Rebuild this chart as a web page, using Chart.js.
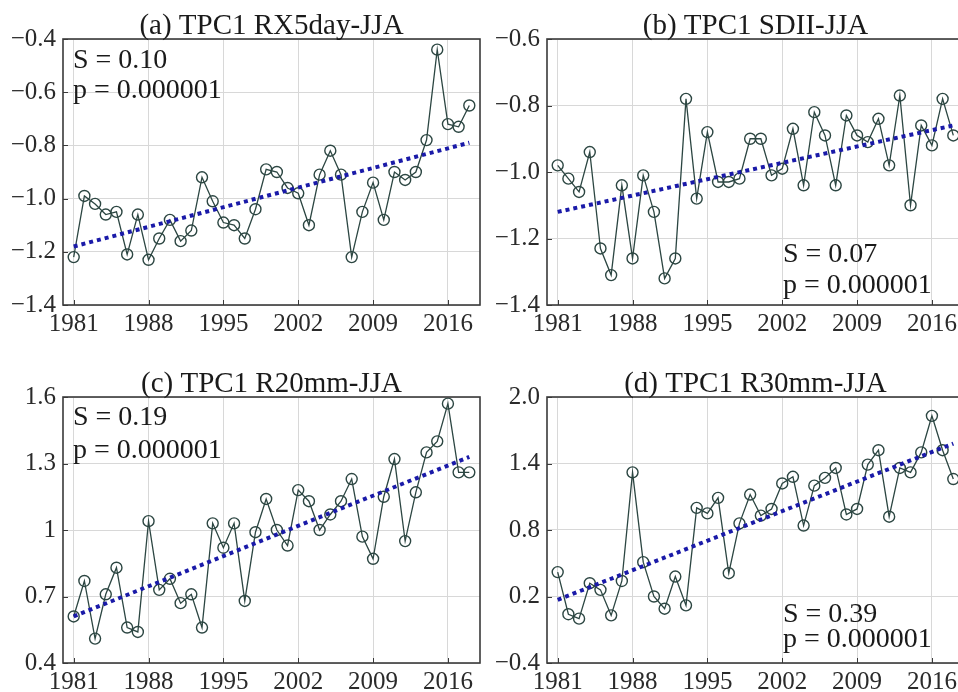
<!DOCTYPE html>
<html>
<head>
<meta charset="utf-8">
<script src="https://cdn.jsdelivr.net/npm/chart.js@4"></script>
<style>
  html, body { margin: 0; padding: 0; background: #fff; overflow: hidden; width: 958px; height: 692px; }
  .panel { position: absolute; }
</style>
</head>
<body>
<canvas id="panelA" class="panel" width="490" height="340" style="left:0;top:0"></canvas>
<canvas id="panelB" class="panel" width="490" height="340" style="left:484px;top:0"></canvas>
<canvas id="panelC" class="panel" width="490" height="340" style="left:0;top:358px"></canvas>
<canvas id="panelD" class="panel" width="490" height="340" style="left:484px;top:358px"></canvas>
<script>
// years of the JJA series
const years = [1981, 1982, 1983, 1984, 1985, 1986, 1987, 1988, 1989, 1990,
               1991, 1992, 1993, 1994, 1995, 1996, 1997, 1998, 1999, 2000,
               2001, 2002, 2003, 2004, 2005, 2006, 2007, 2008, 2009, 2010,
               2011, 2012, 2013, 2014, 2015, 2016, 2017, 2018];
const yearTicks = [1981, 1988, 1995, 2002, 2009, 2016];
const trendYears = [1981, 2018];

// TPC1 values per index
const rx5day = [-1.22, -0.99, -1.02, -1.06, -1.05, -1.21, -1.06, -1.23, -1.15, -1.08,
                -1.16, -1.12, -0.92, -1.01, -1.09, -1.10, -1.15, -1.04, -0.89, -0.90,
                -0.96, -0.98, -1.10, -0.91, -0.82, -0.91, -1.22, -1.05, -0.94, -1.08,
                -0.90, -0.93, -0.90, -0.78, -0.44, -0.72, -0.73, -0.65];
const sdii = [-0.98, -1.02, -1.06, -0.94, -1.23, -1.31, -1.04, -1.26, -1.01, -1.12,
              -1.32, -1.26, -0.78, -1.08, -0.88, -1.03, -1.03, -1.02, -0.90, -0.90,
              -1.01, -0.99, -0.87, -1.04, -0.82, -0.89, -1.04, -0.83, -0.89, -0.91,
              -0.84, -0.98, -0.77, -1.10, -0.86, -0.92, -0.78, -0.89];
const r20mm = [0.61, 0.77, 0.51, 0.71, 0.83, 0.56, 0.54, 1.04, 0.73, 0.78,
               0.67, 0.71, 0.56, 1.03, 0.92, 1.03, 0.68, 0.99, 1.14, 1.00,
               0.93, 1.18, 1.13, 1.00, 1.07, 1.13, 1.23, 0.97, 0.87, 1.15,
               1.32, 0.95, 1.17, 1.35, 1.40, 1.57, 1.26, 1.26];
const r30mm = [0.42, 0.04, 0.00, 0.32, 0.26, 0.03, 0.34, 1.32, 0.51, 0.20,
               0.09, 0.38, 0.12, 1.00, 0.95, 1.09, 0.41, 0.86, 1.12, 0.93,
               0.99, 1.22, 1.28, 0.84, 1.20, 1.27, 1.36, 0.94, 0.99, 1.39,
               1.52, 0.92, 1.36, 1.32, 1.50, 1.83, 1.52, 1.26];

// linear trend, start and end values
const trendRx5day = [-1.18, -0.79];
const trendSdii = [-1.12, -0.86];
const trendR20mm = [0.61, 1.33];
const trendR30mm = [0.17, 1.58];

// y ticks and their labels
const ticksA = [-1.4, -1.2, -1.0, -0.8, -0.6, -0.4];
const labelsA = ['\u22121.4', '\u22121.2', '\u22121.0', '\u22120.8', '\u22120.6', '\u22120.4'];
const ticksB = [-1.4, -1.2, -1.0, -0.8, -0.6];
const labelsB = ['\u22121.4', '\u22121.2', '\u22121.0', '\u22120.8', '\u22120.6'];
const ticksC = [0.4, 0.7, 1.0, 1.3, 1.6];
const labelsC = ['0.4', '0.7', '1', '1.3', '1.6'];
const ticksD = [-0.4, 0.2, 0.8, 1.4, 2.0];
const labelsD = ['\u22120.4', '0.2', '0.8', '1.4', '2.0'];

const SERIF = '"Liberation Serif", "Times New Roman", serif';
const LINE_COLOR = '#2c4642';
const TREND_COLOR = '#1a1aa8';
const GRID_COLOR = '#d8d8d8';
const BOX_COLOR = '#3a3a3a';

// frame, inward ticks, title and S/p text
const panelDecor = {
    id: 'panelDecor',
    afterDraw(chart, args, opts) {
        const { ctx, chartArea: a, scales } = chart;
        ctx.save();
        ctx.strokeStyle = BOX_COLOR;
        ctx.lineWidth = 1;
        ctx.beginPath();
        scales.x.ticks.forEach(t => {
            const x = Math.round(scales.x.getPixelForValue(t.value)) + 0.5;
            ctx.moveTo(x, a.bottom);
            ctx.lineTo(x, a.bottom - 5);
        });
        scales.y.ticks.forEach(t => {
            const y = Math.round(scales.y.getPixelForValue(t.value)) + 0.5;
            ctx.moveTo(a.left, y);
            ctx.lineTo(a.left + 5, y);
        });
        ctx.stroke();

        ctx.lineWidth = 1.6;
        ctx.strokeRect(a.left, a.top, a.right - a.left, a.bottom - a.top);

        ctx.fillStyle = '#1a1a1a';
        ctx.textBaseline = 'alphabetic';
        ctx.font = '29px ' + SERIF;
        ctx.textAlign = 'center';
        ctx.fillText(opts.title, (a.left + a.right) / 2, a.top - 5);

        ctx.textAlign = 'left';
        ctx.font = '28px ' + SERIF;
        opts.lines.forEach((line, i) => {
            ctx.fillText(line, a.left + opts.textX, a.top + opts.textY[i]);
        });
        ctx.restore();
    }
};

function makePanel(id, title, values, trend, yTicks, yLabels, lines, textX, textY) {
    const points = years.map((yr, i) => ({ x: yr, y: values[i] }));
    const trendPts = trendYears.map((yr, i) => ({ x: yr, y: trend[i] }));
    new Chart(document.getElementById(id), {
        type: 'line',
        data: {
            datasets: [
                {
                    data: trendPts,
                    borderColor: TREND_COLOR,
                    borderWidth: 4,
                    borderDash: [4, 4],
                    borderCapStyle: 'butt',
                    pointRadius: 0,
                    order: 0
                },
                {
                    data: points,
                    borderColor: LINE_COLOR,
                    borderWidth: 1.3,
                    pointRadius: 5.5,
                    pointBorderWidth: 1.4,
                    pointBorderColor: LINE_COLOR,
                    pointBackgroundColor: 'rgba(255,255,255,0)',
                    tension: 0,
                    order: 1
                }
            ]
        },
        options: {
            responsive: false,
            animation: false,
            devicePixelRatio: 1,
            layout: { padding: { top: 39, right: 10, left: 0, bottom: 0 } },
            plugins: {
                legend: { display: false },
                tooltip: { enabled: false },
                panelDecor: { title: title, lines: lines, textX: textX, textY: textY }
            },
            scales: {
                x: {
                    type: 'linear',
                    min: 1980,
                    max: 2019,
                    afterBuildTicks: s => { s.ticks = yearTicks.map(v => ({ value: v })); },
                    afterFit: s => { s.height = 35; },
                    ticks: {
                        color: '#2a2a2a',
                        font: { family: SERIF, size: 25 },
                        padding: 4,
                        maxRotation: 0,
                        callback: v => String(v)
                    },
                    grid: { color: GRID_COLOR, drawTicks: false },
                    border: { display: false }
                },
                y: {
                    min: yTicks[0],
                    max: yTicks[yTicks.length - 1],
                    afterBuildTicks: s => { s.ticks = yTicks.map(v => ({ value: v })); },
                    afterFit: s => { s.width = 63; },
                    ticks: {
                        color: '#2a2a2a',
                        font: { family: SERIF, size: 25 },
                        padding: 7,
                        callback: (v, i) => yLabels[i]
                    },
                    grid: { color: GRID_COLOR, drawTicks: false },
                    border: { display: false }
                }
            }
        },
        plugins: [panelDecor]
    });
}

makePanel('panelA', '(a) TPC1 RX5day-JJA', rx5day, trendRx5day, ticksA, labelsA,
    ['S = 0.10', 'p = 0.000001'], 10, [29, 59]);
makePanel('panelB', '(b) TPC1 SDII-JJA', sdii, trendSdii, ticksB, labelsB,
    ['S = 0.07', 'p = 0.000001'], 236, [223, 254]);
makePanel('panelC', '(c) TPC1 R20mm-JJA', r20mm, trendR20mm, ticksC, labelsC,
    ['S = 0.19', 'p = 0.000001'], 10, [28, 61]);
makePanel('panelD', '(d) TPC1 R30mm-JJA', r30mm, trendR30mm, ticksD, labelsD,
    ['S = 0.39', 'p = 0.000001'], 236, [225, 250]);
</script>
</body>
</html>
